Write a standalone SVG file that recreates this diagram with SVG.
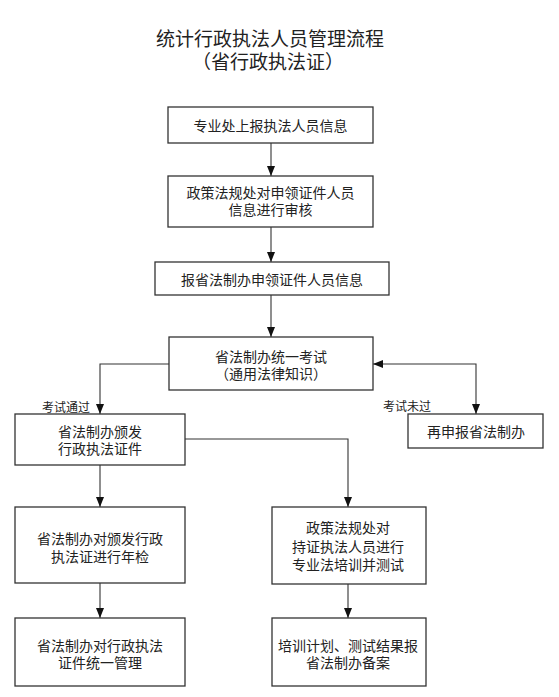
<svg xmlns="http://www.w3.org/2000/svg" width="559" height="697" viewBox="0 0 559 697">
<defs>
<marker id="arr" markerUnits="userSpaceOnUse" markerWidth="10" markerHeight="10" viewBox="0 0 10 10" refX="10" refY="5" orient="auto-start-reverse">
<path d="M0,1 L10,5 L0,9 Z" fill="#111"/>
</marker>
</defs>
<style>
text{font-family:"Noto Sans CJK SC","Liberation Serif",serif;fill:#222;text-anchor:middle;dominant-baseline:central;}
.t{font-size:19px;}
.n{font-size:14px;}
.l{font-size:12px;}
rect{fill:#fff;stroke:#333;stroke-width:1.3;}
.c path{fill:none;stroke:#333;stroke-width:1.1;}
</style>
<rect x="0" y="0" width="559" height="697" style="stroke:none"/>
<g id="title">
<text class="t" x="270" y="37">统计行政执法人员管理流程<tspan x="268" y="60">（省行政执法证）</tspan></text>
</g>
<g class="c" id="connectors">
<path d="M271,143 V176" marker-end="url(#arr)"/>
<path d="M271,227 V262" marker-end="url(#arr)"/>
<path d="M271,295 V337" marker-end="url(#arr)"/>
<path d="M169,364 H100 V414" marker-end="url(#arr)"/>
<path d="M373,364 H476 V414" marker-start="url(#arr)" marker-end="url(#arr)"/>
<path d="M185,439 H348 V507" marker-end="url(#arr)"/>
<path d="M100,465 V507" marker-end="url(#arr)"/>
<path d="M100,583 V618" marker-end="url(#arr)"/>
<path d="M348,584 V618" marker-end="url(#arr)"/>
</g>
<g id="labels">
<text class="l" x="66" y="406">考试通过</text>
<text class="l" x="407" y="405">考试未过</text>
</g>
<g id="n1"><rect x="168" y="107" width="205" height="36"/><text class="n" x="270.5" y="125">专业处上报执法人员信息</text></g>
<g id="n2"><rect x="168" y="176" width="205" height="51"/><text class="n" x="270.5" y="192">政策法规处对申领证件人员<tspan x="270.5" y="209">信息进行审核</tspan></text></g>
<g id="n3"><rect x="155" y="262" width="234" height="33"/><text class="n" x="272" y="278.5">报省法制办申领证件人员信息</text></g>
<g id="n4"><rect x="169" y="337" width="204" height="53"/><text class="n" x="271" y="356">省法制办统一考试<tspan x="271" y="373">（通用法律知识）</tspan></text></g>
<g id="n5"><rect x="15" y="414" width="170" height="51"/><text class="n" x="100" y="431">省法制办颁发<tspan x="100" y="448">行政执法证件</tspan></text></g>
<g id="n6"><rect x="408" y="414" width="135" height="34"/><text class="n" x="476" y="431">再申报省法制办</text></g>
<g id="n7"><rect x="15" y="507" width="170" height="76"/><text class="n" x="100" y="538">省法制办对颁发行政<tspan x="100" y="556">执法证进行年检</tspan></text></g>
<g id="n8"><rect x="272" y="507" width="154" height="77"/><text class="n" x="348" y="527">政策法规处对<tspan x="348" y="546">持证执法人员进行</tspan><tspan x="348" y="564">专业法培训并测试</tspan></text></g>
<g id="n9"><rect x="15" y="618" width="170" height="68"/><text class="n" x="100" y="645">省法制办对行政执法<tspan x="100" y="662">证件统一管理</tspan></text></g>
<g id="n10"><rect x="272" y="618" width="154" height="68"/><text class="n" x="348" y="645">培训计划、测试结果报<tspan x="348" y="662">省法制办备案</tspan></text></g>
</svg>
